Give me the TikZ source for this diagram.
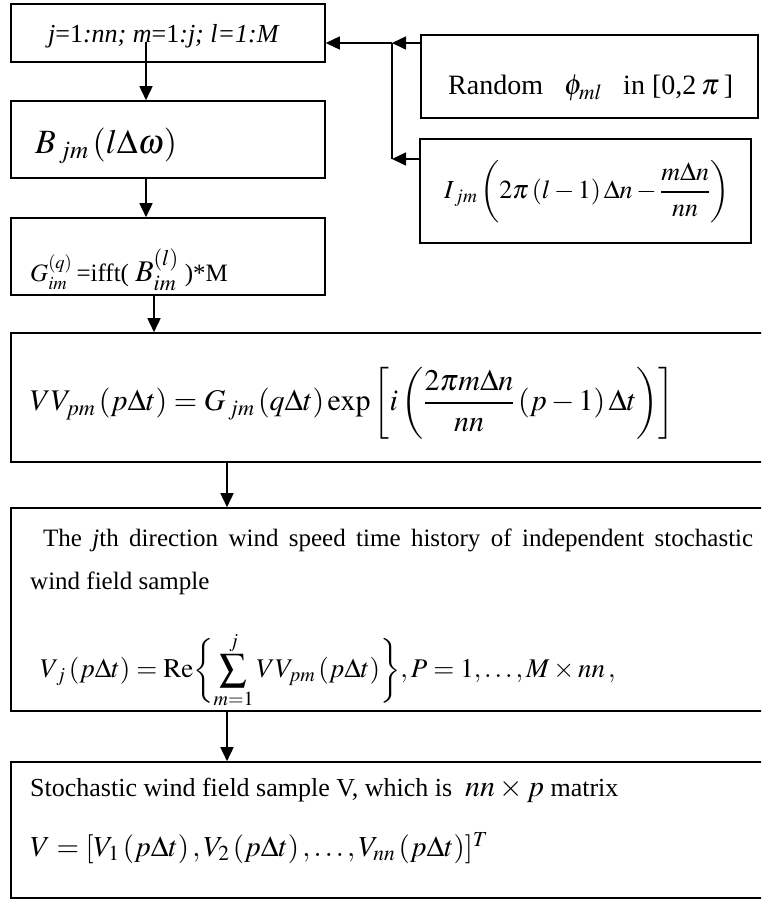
\documentclass[tikz,border=0pt]{standalone}
\usepackage{mathptmx}
\usepackage{amsmath}
\usepackage[no-math]{fontspec}
\setmainfont{Liberation Serif}
\usetikzlibrary{arrows.meta}
\newcommand{\fsz}[1]{\fontsize{#1}{#1}\selectfont}
\begin{document}
\begin{tikzpicture}[x=1pt,y=-1pt,
  box/.style={draw,line width=1.6pt,inner sep=0pt},
  arr/.style={line width=1.6pt,-{Triangle[length=14pt,width=13pt]}},
  lin/.style={line width=1.6pt},
  txt/.style={inner sep=0pt,anchor=west}]
\useasboundingbox (0,0) rectangle (761,900);
\clip (0,0) rectangle (761,900);
% boxes
\node[box,minimum width=314pt,minimum height=58pt] (b1) at (168,33) {};
\node[box,minimum width=314pt,minimum height=77pt] (bB) at (168,139.5) {};
\node[box,minimum width=314pt,minimum height=77pt] (bG) at (168,256.5) {};
\node[box,minimum width=337pt,minimum height=83pt] (bR) at (589.5,76.5) {};
\node[box,minimum width=331pt,minimum height=104pt] (bI) at (585.5,191) {};
\node[box,minimum width=800pt,minimum height=129pt] (bV) at (411,397.5) {};
\node[box,minimum width=800pt,minimum height=203pt] (bW) at (411,609.5) {};
\node[box,minimum width=800pt,minimum height=136pt] (bL) at (411,830) {};
% texts
\node[txt] (t1) at (48,36) {\fsz{26}\textit{j}=1\textit{:nn; m}=1\textit{:j; l=1:M}};
\node[txt] (tB) at (35,146) {\fsz{34}$B_{\,jm}\,(l\Delta\omega)$};
\node[txt] (tG) at (30,270) {\fsz{25}$G_{im}^{(q)}$\,=ifft( {\fsz{30}$B_{im}^{(l)}$} )*M};
\node[txt] (tR) at (448,88) {\fsz{28}Random \ \ {\fsz{29}$\phi_{ml}$} \ \ in [0,2\,{\fsz{29}$\pi$}\,]};
\node[txt] (tI) at (444,192) {\fsz{26}$\displaystyle I_{\,jm}\left(2\pi\left(l-1\right)\Delta n-\frac{m\Delta n}{nn}\right)$};
\node[txt] (tV) at (30,403) {\fsz{30}$\displaystyle VV_{pm}\left(p\Delta t\right)=G_{\,jm}\left(q\Delta t\right)\exp\left[i\left(\frac{2\pi m\Delta n}{nn}\left(p-1\right)\Delta t\right)\right]$};
\node[txt] (tW1) at (43,540) {\fsz{25}\makebox[710pt][s]{The \textit{j}th direction wind speed time history of independent stochastic}};
\node[txt] (tW2) at (30,583) {\fsz{25}wind field sample};
\node[txt] (tW3) at (40,670) {\fsz{27}$\displaystyle V_{\,j}\left(p\Delta t\right)=\mathrm{Re}\biggl\{\sum_{m=1}^{j}VV_{pm}\left(p\Delta t\right)\biggr\},P=1,\ldots,M\times nn\,,$};
\node[txt] (tL1) at (30,790) {\fsz{26}Stochastic wind field sample V, which is \ {\fsz{30}$nn\times p$} matrix};
\node[txt] (tL2) at (30,848) {\fsz{29}$V=[V_1\left(p\Delta t\right),V_2\left(p\Delta t\right),\ldots,V_{nn}\left(p\Delta t\right)]^T$};
% connectors
\coordinate (s1) at (146,42);
\draw[arr] (s1) -- (s1 |- bB.north);
\coordinate (s2) at (146,178);
\draw[arr] (s2) -- (s2 |- bG.north);
\coordinate (s3) at (154,295);
\draw[arr] (s3) -- (s3 |- bV.north);
\coordinate (s4) at (227,462);
\draw[arr] (s4) -- (s4 |- bW.north);
\coordinate (s5) at (227,711);
\draw[arr] (s5) -- (s5 |- bL.north);
\coordinate (j1) at (392,43);
\coordinate (j2) at (392,159);
\draw[arr] (bR.west |- j1) -- (j1);
\draw[arr] (j1) -- (b1.east |- j1);
\draw[lin] (j1) -- (j2);
\draw[arr] (bI.west |- j2) -- (j2);
\end{tikzpicture}
\end{document}
